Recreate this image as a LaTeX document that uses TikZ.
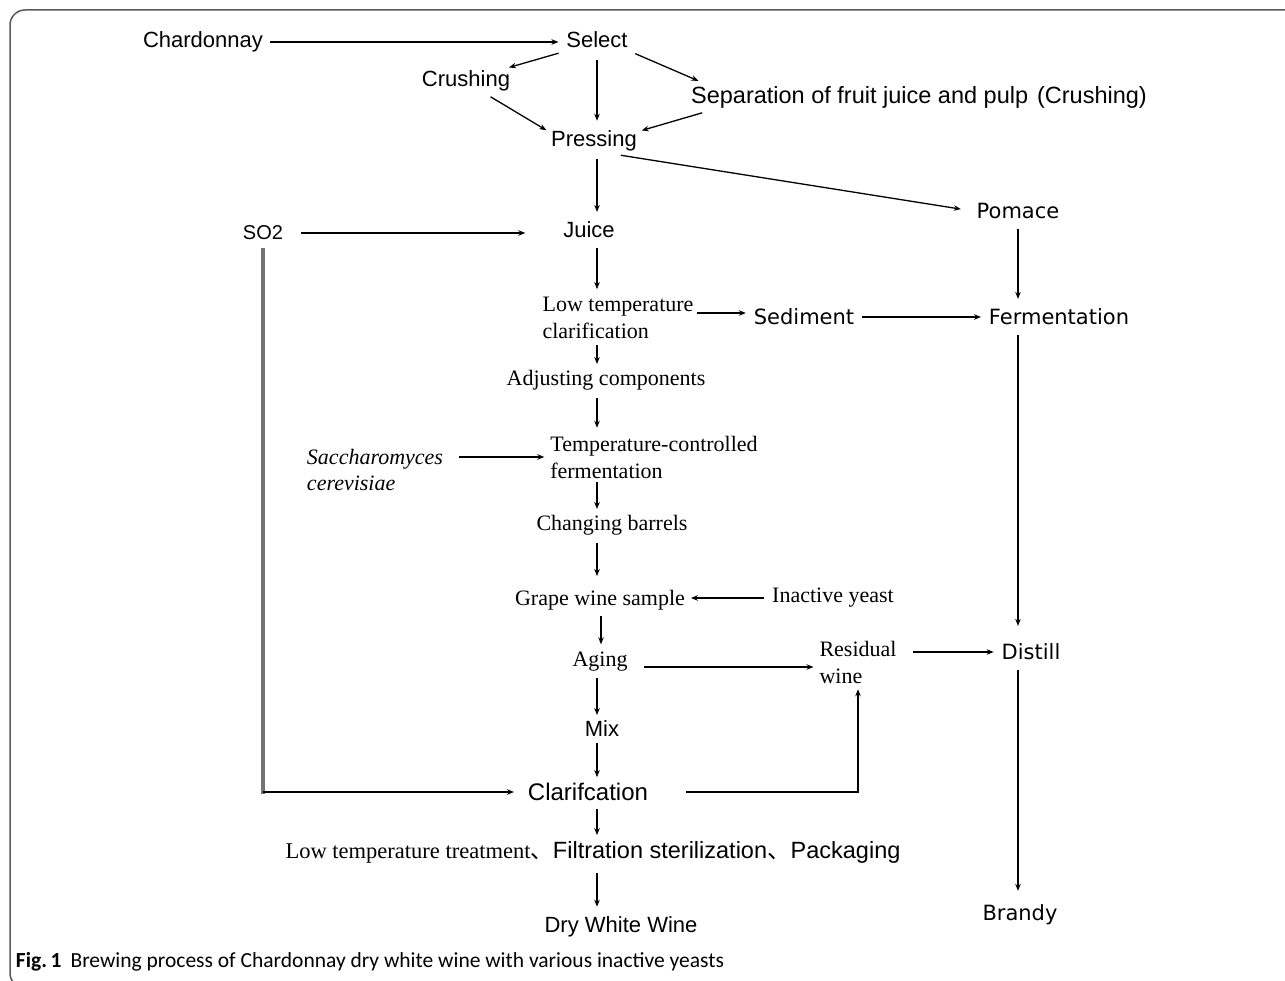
\documentclass[tikz,border=0pt]{standalone}
\usepackage{fontspec}
\setmainfont{Liberation Serif}
\newfontfamily\lsans{Liberation Sans}
\newfontfamily\dsans{DejaVu Sans}
\newfontfamily\cjk{Noto Sans CJK SC}
\newfontfamily\capfont{Carlito}
\usetikzlibrary{arrows.meta}
\begin{document}
\begin{tikzpicture}[x=1pt,y=-1pt,
  every node/.style={inner sep=4pt, outer sep=0pt},
  sanst/.style={font=\lsans\fontsize{22}{26}\selectfont},
  widesans/.style={font=\dsans\fontsize{21}{25}\selectfont},
  seri/.style={font=\fontsize{22}{27}\selectfont, align=left},
  arr/.style={draw=black, line width=1.3pt, -{Stealth[length=7pt,width=5.5pt]}},
  thickgray/.style={draw=black!55, line width=3.5pt},
]
\useasboundingbox (0,0) rectangle (1285,981);
\draw[black!65, line width=1.5pt, rounded corners=15pt] (1300,988) -- (10,988) -- (10,10) -- (1300,10);

\coordinate (sp) at (597,0);
\coordinate (sq) at (601,0);
\coordinate (rs) at (1018,0);

% nodes
\node[sanst] (chard) at (203,42) {Chardonnay};
\node[sanst] (sel) at (597,40) {Select};
\node[sanst] (crush) at (466,81) {Crushing};
\node[sanst, font=\lsans\fontsize{23.5}{27}\selectfont] (sep) at (919,97) {Separation of fruit juice and pulp\hspace{9pt}(Crushing)};
\node[sanst] (pr) at (594,141) {Pressing};
\node[widesans] (pom) at (1018,211) {Pomace};
\node[sanst, font=\lsans\fontsize{20}{24}\selectfont] (so2) at (263,233) {SO2};
\node[sanst] (juice) at (589,230) {Juice};
\node[seri] (low) at (618,318) {Low temperature\\clarification};
\node[widesans] (sed) at (804,317) {Sediment};
\node[widesans] (ferm) at (1059,317) {Fermentation};
\node[seri] (adj) at (606,380) {Adjusting components};
\node[seri] (temp) at (654,457) {Temperature-controlled\\fermentation};
\node[seri, font=\itshape\fontsize{22}{26}\selectfont] (sacch) at (375,470) {Saccharomyces\\cerevisiae};
\node[seri] (chg) at (612,525) {Changing barrels};
\node[seri] (grape) at (600,600) {Grape wine sample};
\node[seri] (inact) at (833,598) {Inactive yeast};
\node[seri] (aging) at (600,662) {Aging};
\node[seri] (resid) at (858,662) {Residual\\wine};
\node[widesans] (distill) at (1031,652) {Distill};
\node[widesans] (brandy) at (1020,915) {Brandy};
\node[sanst] (mix) at (602,729) {Mix};
\node[sanst, font=\lsans\fontsize{24}{28}\selectfont] (clar) at (588,792) {Clarifcation};
\node[seri] (bot) at (593,852) {\fontsize{22.5}{27}\selectfont Low temperature treatment{\cjk 、}{\lsans\fontsize{23.5}{27}\selectfont Filtration sterilization{\cjk 、}Packaging}};
\node[sanst] (dry) at (621,927) {Dry White Wine};
\node[anchor=west, font=\capfont\fontsize{21.5}{25}\selectfont] (cap) at (12,962) {\textbf{Fig.\,1}\hspace{9pt}Brewing process of Chardonnay dry white wine with various inactive yeasts};

% connectors
\draw[arr, shorten <=3pt, shorten >=4pt] (chard.east) -- (chard.east -| sel.west);
\draw[arr, shorten <=4pt, shorten >=1pt] (sel.south west) -- ([xshift=-6pt,yshift=-1pt]crush.north east);
\draw[arr, shorten <=4pt, shorten >=3pt] (sel.south east) -- ([xshift=14pt]sep.north west);
\draw[arr, shorten <=8pt, shorten >=6pt] (sel.south -| sp) -- (pr.north -| sp);
\draw[arr, shorten <=3pt, shorten >=1pt] ([xshift=22pt]crush.south) -- ([yshift=-4pt]pr.north west);
\draw[arr, shorten <=3pt, shorten >=1pt] ([xshift=18pt]sep.south west) -- ([yshift=-4pt]pr.north east);
\draw[arr, shorten <=4pt, shorten >=6pt] (pr.south -| sp) -- (juice.north -| sp);
\draw[arr, shorten >=12pt] ([xshift=-20pt]pr.south east) -- (pom.west);
\draw[arr, shorten <=14pt, shorten >=34pt] (so2.east) -- (so2.east -| juice.west);
\draw[arr, shorten <=6pt, shorten >=4pt] (juice.south -| sp) -- (low.north -| sp);
\draw[arr, shorten >=4pt] ([yshift=5pt]low.east) -- ([yshift=5pt]low.east -| sed.west);
\draw[arr, shorten <=4pt, shorten >=4pt] (sed.east) -- (sed.east -| ferm.west);
\draw[arr, shorten <=6pt, shorten >=6pt] (pom.south -| rs) -- (ferm.north -| rs);
\draw[arr, shorten <=6pt, shorten >=14pt] (ferm.south -| rs) -- (distill.north -| rs);
\draw[arr, shorten <=2pt, shorten >=2pt] (low.south -| sp) -- (adj.north -| sp);
\draw[arr, shorten <=4pt, shorten >=4pt] (adj.south -| sp) -- (temp.north -| sp);
\draw[arr, shorten <=12pt, shorten >=2pt] (sacch.east |- temp.west) -- (temp.west);
\draw[arr, shorten <=0pt, shorten >=2pt] (temp.south -| sp) -- (chg.north -| sp);
\draw[arr, shorten <=4pt, shorten >=10pt] (chg.south -| sp) -- (grape.north -| sp);
\draw[arr, shorten <=4pt, shorten >=2pt] (inact.west) -- (inact.west -| grape.east);
\draw[arr, shorten <=2pt, shorten >=4pt] (grape.south -| sq) -- (aging.north -| sq);
\draw[arr, shorten <=12pt, shorten >=2pt] ([yshift=-5pt]aging.east) -- ([yshift=-5pt]aging.east -| resid.west);
\draw[arr, shorten <=12pt, shorten >=4pt] (resid.east |- distill.west) -- (distill.west);
\draw[arr, shorten <=6pt, shorten >=10pt] (distill.south -| rs) -- (brandy.north -| rs);
\draw[arr, shorten <=2pt, shorten >=2pt] (aging.south -| sp) -- (mix.north -| sp);
\draw[arr, shorten <=2pt, shorten >=2pt] (mix.south -| sp) -- (clar.north -| sp);
\coordinate (c1) at (so2.south |- clar.west);
\draw[thickgray, shorten <=4pt] (so2.south) -- ([yshift=-1.5pt]c1);
\draw[arr, shorten >=10pt] (c1) -- (clar.west);
\draw[arr, shorten <=34pt, shorten >=2pt] (clar.east) -| (resid.south);
\draw[arr, shorten <=4pt, shorten >=2pt] (clar.south -| sp) -- (bot.north -| sp);
\draw[arr, shorten <=6pt, shorten >=6pt] (bot.south -| sp) -- (dry.north -| sp);
\end{tikzpicture}
\end{document}
